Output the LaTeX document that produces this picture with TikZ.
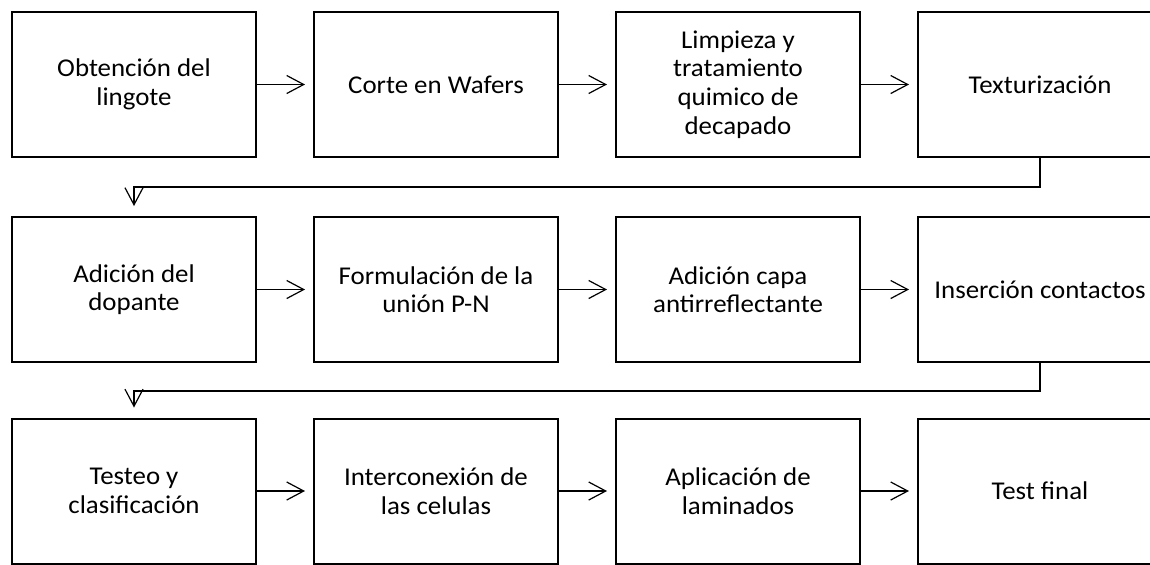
\documentclass[tikz,border=0pt]{standalone}
\usepackage{fontspec}
\setmainfont{Carlito}[FakeStretch=1.05]
\usepackage{tikz}
\usetikzlibrary{arrows.meta}

\begin{document}
\begin{tikzpicture}[x=0.5pt,y=-0.5pt]
         \tikzset{paso/.style={draw,line width=1pt,minimum width=122pt,minimum height=72.5pt,
            align=center,font=\fontsize{12.8pt}{14.3pt}\selectfont}}
         \tikzset{flecha/.style={-{Straight Barb[length=8.5pt,width=9pt]},line width=0.6pt,shorten >=4pt}}
         \clip (0,0) rectangle (1150,564);
         % fila 1
         \node[paso] (obt) at (134,84.5) {Obtención del\\lingote};
         \node[paso] (cor) at (436,84.5) {Corte en Wafers};
         \node[paso] (lim) at (738,84.5) {Limpieza y\\tratamiento\\quimico de\\decapado};
         \node[paso] (tex) at (1040,84.5) {Texturización};
         % fila 2
         \node[paso] (dop) at (134,289.5) {Adición del\\dopante};
         \node[paso] (pn)  at (436,289.5) {Formulación de la\\unión P-N};
         \node[paso] (cap) at (738,289.5) {Adición capa\\antirreflectante};
         \node[paso] (con) at (1040,289.5) {Inserción contactos};
         % fila 3
         \node[paso] (tes) at (134,491) {Testeo y\\clasificación};
         \node[paso] (int) at (436,491) {Interconexión de\\las celulas};
         \node[paso] (lam) at (738,491) {Aplicación de\\laminados};
         \node[paso] (fin) at (1040,491) {Test final};
         \draw[flecha] (obt) -- (cor);
         \draw[flecha] (cor) -- (lim);
         \draw[flecha] (lim) -- (tex);
         \draw[flecha,shorten >=5pt] (tex.south) -- ++(0,29) -| (dop.north);
         \draw[flecha] (dop) -- (pn);
         \draw[flecha] (pn) -- (cap);
         \draw[flecha] (cap) -- (con);
         \draw[flecha,shorten >=5pt] (con.south) -- ++(0,28) -| (tes.north);
         \draw[flecha] (tes) -- (int);
         \draw[flecha] (int) -- (lam);
         \draw[flecha] (lam) -- (fin);
      \end{tikzpicture}
\end{document}
